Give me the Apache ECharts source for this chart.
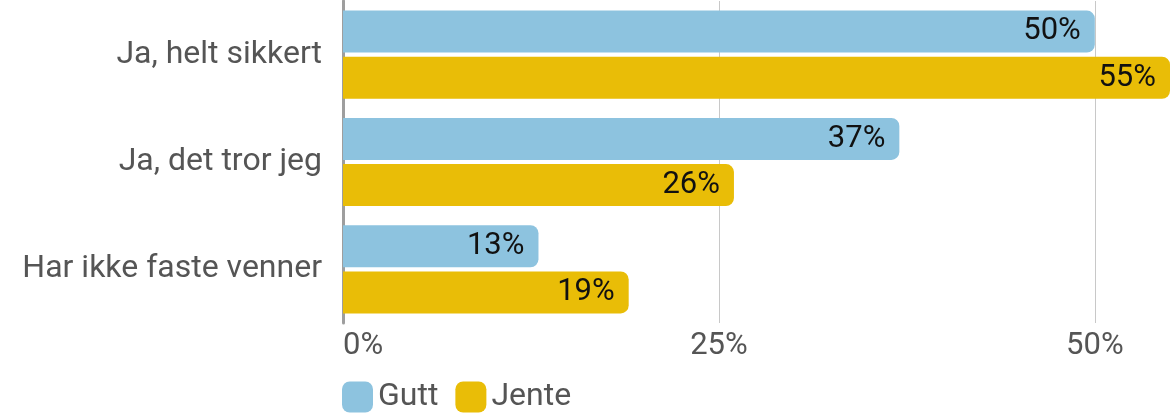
<!DOCTYPE html>
<html>
<head>
<meta charset="utf-8">
<script src="https://cdn.jsdelivr.net/npm/echarts@6/dist/echarts.min.js"></script>
<style>
html,body{margin:0;padding:0;background:#fff;}
#chart{width:1170px;height:413px;}
</style>
</head>
<body>
<div id="chart"></div>
<script>
const categories = ["Ja, helt sikkert", "Ja, det tror jeg", "Har ikke faste venner"];
const seriesNames = ["Gutt", "Jente"];
const gutt = [50, 37, 13];
const jente = [55, 26, 19];
const xTicks = [0, 25, 50];

const chart = echarts.init(document.getElementById('chart'), null, {renderer: 'canvas'});
const font = 'Roboto';
chart.setOption({
  animation: false,
  textStyle: {fontFamily: font},
  grid: {left: 343, top: 1, width: 829, height: 322, containLabel: false},
  legend: {
    data: seriesNames,
    left: 337, top: 376,
    itemWidth: 31, itemHeight: 31, itemGap: 17,
    icon: 'roundRect',
    textStyle: {fontSize: 32, color: '#555', fontFamily: font}
  },
  xAxis: {
    type: 'value', min: 0, max: 55, interval: 25,
    axisLine: {show: false}, axisTick: {show: false},
    splitLine: {show: true, showMinLine: false, showMaxLine: false, lineStyle: {color: '#c8c8c8', width: 1}},
    axisLabel: {
      fontSize: 31, color: '#555', margin: 8, fontFamily: font,
      showMaxLabel: false, alignMinLabel: 'left',
      formatter: v => xTicks.includes(v) ? v + '%' : ''
    }
  },
  yAxis: {
    type: 'category', data: categories, inverse: true,
    axisLine: {show: true, lineStyle: {color: '#9e9e9e', width: 3}},
    axisTick: {show: false},
    axisLabel: {fontSize: 32, color: '#555', margin: 21, fontFamily: font}
  },
  series: [
    {name: seriesNames[0], type: 'bar', data: gutt, barWidth: 42, barGap: '10%',
     itemStyle: {color: '#8DC3DF', borderRadius: [0, 8, 8, 0]},
     label: {show: true, position: 'insideRight', distance: 14, formatter: '{c}%', fontSize: 31, color: '#111', fontFamily: font}},
    {name: seriesNames[1], type: 'bar', data: jente, barWidth: 42, barGap: '10%',
     itemStyle: {color: '#E9BD07', borderRadius: [0, 8, 8, 0]},
     label: {show: true, position: 'insideRight', distance: 14, formatter: '{c}%', fontSize: 31, color: '#111', fontFamily: font}}
  ]
});
</script>
</body>
</html>
